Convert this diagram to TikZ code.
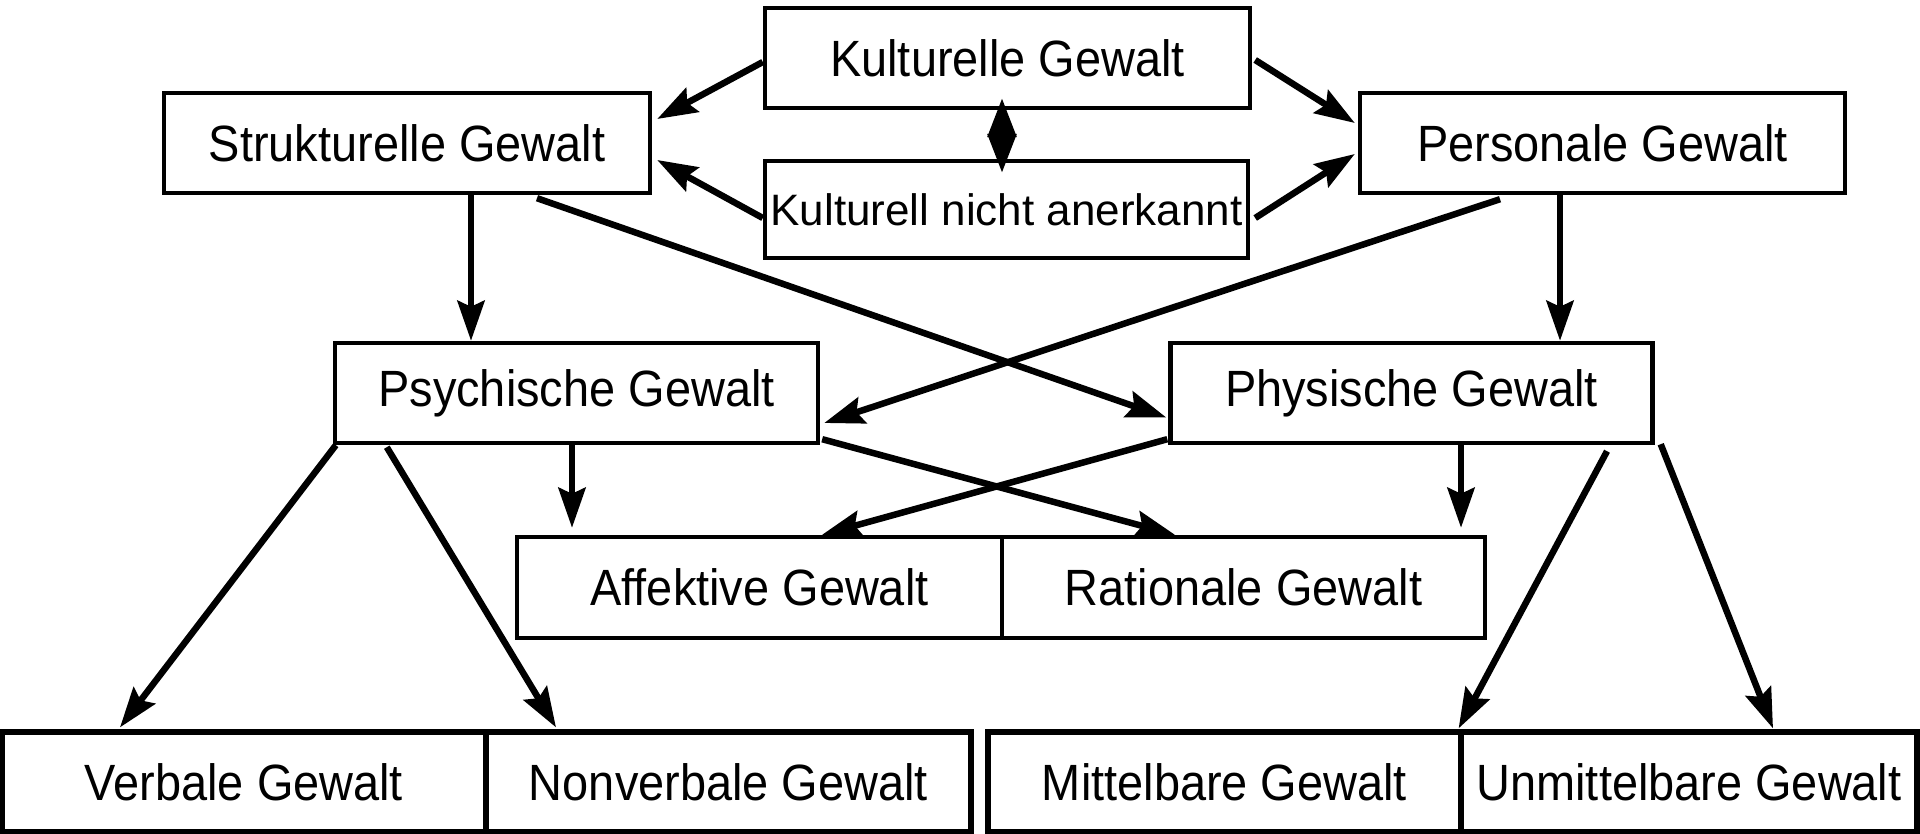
\documentclass[tikz,border=0pt]{standalone}
\usepackage{fontspec}
\setmainfont{Liberation Sans}[FakeStretch=0.92]
\newfontfamily\plainsans{Liberation Sans}
\usetikzlibrary{calc}
\usetikzlibrary{arrows.meta}
\newcommand*{\bigtxt}{\fontsize{25.5}{30}\selectfont}
\newcommand*{\smltxt}{\plainsans\fontsize{22}{26}\selectfont}
\newcommand*{\boxht }{50pt}

\begin{document}
\begin{tikzpicture}[x=0.5pt, y=-0.5pt, font=\bigtxt,
        box/.style  = {draw, line width=2.2pt, inner sep=0pt, minimum height=\boxht},
        leaf/.style = {box, line width=2.6pt},
        arr/.style  = {-{Stealth[length=20pt, width=13.5pt, inset=3pt]}, line width=3.25pt},
        dbl/.style  = {{Triangle[length=19.5pt, width=14pt]}-{Triangle[length=19.5pt, width=14pt]}, line width=3pt}]
    \useasboundingbox (0,0) rectangle (1920,834);
        \node [box, minimum width=242.5pt]                     (kult)     at (1007.5,  58) {Kulturelle Gewalt};
        \node [box, minimum width=241.5pt, minimum height=48.5pt, font=\smltxt] (knicht) at (1006.5, 209.5) {Kulturell nicht anerkannt};
        \node [box, minimum width=243pt]                       (strukt)   at ( 407  , 143) {Strukturelle Gewalt};
        \node [box, minimum width=242.5pt]                     (pers)     at (1602.5, 143) {Personale Gewalt};
        \node [box, minimum width=241.5pt]                     (psych)    at ( 576.5, 393) {Psychische Gewalt};
        \node [box, minimum width=241pt]                       (phys)     at (1411.5, 393) {Physische Gewalt};
        \node [box, minimum width=242.5pt, minimum height=50.5pt] (affekt) at ( 759.5, 587.5) {Affektive Gewalt};
        \node [box, minimum width=241.5pt, minimum height=50.5pt] (ration) at (1243.5, 587.5) {Rationale Gewalt};
        \node [leaf, minimum width=242pt]                      (verbal)   at ( 244  , 782) {Verbale Gewalt};
        \node [leaf, minimum width=242.5pt]                    (nonverb)  at ( 728.5, 782) {Nonverbale Gewalt};
        \node [leaf, minimum width=236.5pt]                    (mittel)   at (1224.5, 782) {Mittelbare Gewalt};
        \node [leaf, minimum width=228pt]                      (unmittel) at (1689  , 782) {Unmittelbare Gewalt};
        % oberste Ebene
        \draw [arr] ($(kult.west)+(0,4)$)       -- ($(strukt.east)+(5,-24)$);
        \draw [arr] ($(knicht.west)+(0,8.5)$)   -- ($(strukt.east)+(5,17)$);
        \draw [arr] ($(kult.east)+(3,2)$)       -- ($(pers.west)+(-3,-20)$);
        \draw [arr] ($(knicht.east)+(5,8.5)$)   -- ($(pers.west)+(-3,11)$);
        \draw [dbl] ($(kult.south)+(-5.5,-12)$) -- ($(knicht.north)+(-4.5,14)$);
        % zweite Ebene
        \draw [arr] ($(strukt.south)+(64,0)$)     -- ($(psych.north)+(-105.5,0)$);
        \draw [arr] ($(strukt.south)+(130,3)$)    -- ($(phys.west)+(-2,24.5)$);
        \draw [arr] ($(pers.south)+(-102.5,4)$)   -- ($(psych.east)+(4,30)$);
        \draw [arr] ($(pers.south)+(-42.5,0)$)    -- ($(phys.north)+(148.5,0)$);
        % dritte Ebene
        \draw [arr] ($(psych.south)+(-4.5,0)$)      -- ($(affekt.north)+(-187.5,-7)$);
        \draw [arr] ($(psych.south east)+(2,-6)$)   -- ($(ration.north)+(-68.5,0)$);
        \draw [arr] ($(phys.south west)+(-1,-6)$)   -- ($(affekt.north)+(62.5,0)$);
        \draw [arr] ($(phys.south)+(49.5,0)$)       -- ($(ration.north)+(217.5,-7)$);
        \draw [arr] ($(psych.south west)+(3,0)$)    -- ($(verbal.north)+(-124,-2)$);
        \draw [arr] ($(psych.south west)+(54,2)$)   -- ($(nonverb.north)+(-172.5,-2)$);
        \draw [arr] ($(phys.south)+(195.5,6)$)      -- ($(mittel.north east)+(-5,-1)$);
        \draw [arr] ($(phys.south east)+(6,-1)$)    -- ($(unmittel.north)+(84,-1)$);
    \end{tikzpicture}
\end{document}
